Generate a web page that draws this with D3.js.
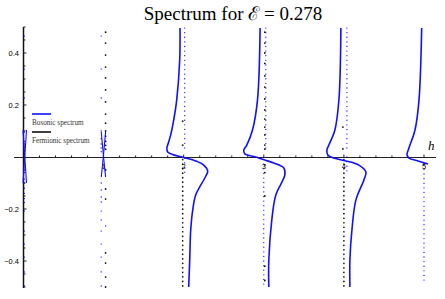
<!DOCTYPE html>
<html>
<head>
<meta charset="utf-8">
<script src="https://cdn.jsdelivr.net/npm/d3@7"></script>
<style>
  body { margin: 0; background: #fff; }
</style>
</head>
<body>
<svg id="chart" width="445" height="299"></svg>
<script>
// ---- data: [h, value] ----
const bosonCurve2 = [[1.954,0.496],[1.95,0.373],[1.9125,0.219],[1.875,0.142],[1.8375,0.085],[1.8,0.046],
  [1.79,0.035],[1.8,0.019],[1.86,0.01],[2.0,-0.002],[2.15,-0.015],[2.25,-0.031],[2.3,-0.054],[2.27,-0.077],
  [2.15,-0.146],[2.1125,-0.204],[2.0875,-0.281],[2.075,-0.396],[2.0625,-0.5]];
const bosonCurve3 = [[2.954,0.496],[2.921,0.219],[2.859,0.104],[2.7875,0.046],[2.75,0.027],[2.7625,0.012],
  [2.875,0.002],[3.0125,-0.0115],[3.125,-0.023],[3.25,-0.042],[3.2625,-0.069],[3.15,-0.146],[3.1,-0.242],
  [3.0625,-0.396],[3.0625,-0.5]];
const bosonCurve4 = [[3.9625,0.496],[3.9375,0.219],[3.8875,0.104],[3.8125,0.046],[3.7875,0.027],[3.8,0.008],
  [3.875,-0.004],[4.025,-0.015],[4.1875,-0.031],[4.275,-0.058],[4.25,-0.088],[4.15,-0.165],[4.1,-0.281],
  [4.075,-0.396],[4.075,-0.5]];
const bosonCurve5 = [[4.971,0.496],[4.9375,0.219],[4.8875,0.104],[4.8125,0.035],[4.7875,0.008],[4.8125,-0.004],
  [4.925,-0.015],[5.05,-0.027]];
const bosonSpikes = [
  [[-0.006,0.104],[0.016,0],[0.0375,-0.1]],
  [[0.0375,0.104],[0.016,0],[-0.006,-0.1]],
  [[0.971,0.096],[0.998,0.005],[1.025,-0.077]],
  [[1.025,0.096],[0.998,0.005],[0.971,-0.077]]
];

// sparse dots: {h, values}
const bosonDots = [
  {h: 0.01, values: [0.465,0.338,0.227,0.096,0.06,0.04,0.025,0.012,-0.06,-0.085,-0.1,-0.12,-0.14,-0.16,-0.175,
    -0.208,-0.285,-0.335,-0.385,-0.442,-0.496]},
  {h: 0.97, values: [0.465,0.338,0.227,0.1,0.07,0.05,0.035,0.02,-0.1,-0.127,-0.154,-0.173,-0.208,-0.242,-0.285,
    -0.335,-0.385,-0.442,-0.496]},
  {h: 1.025, values: [-0.265]}
];
const fermionDots = [
  {h: 1.025, values: [0.48,0.438,0.392,0.346,0.304,0.258,0.212,0.165,0.13,0.1,0.08,0.06,0.045,0.03,
    -0.05,-0.123,-0.162,-0.369,-0.408,-0.462,-0.5]},
  {h: 1.9875, values: [0.138,0.046]},
  {h: 3.0125, values: [0.48,0.438,0.4,0.36,0.312,0.269,0.223,0.181,0.146,0.115,0.085,0.046,0.03,-0.03,-0.06,
    -0.15,-0.42,-0.475]},
  {h: 3.9875, values: [0.115,0.031]},
  {h: 5.0, values: [-0.027]}
];
// dense dotted columns: {h, from, to}
const bosonColumns = [
  {h: 2.0125, from: 0.496, to: 0.02}, {h: 2.0125, from: -0.005, to: -0.07},
  {h: 3.025, from: 0.496, to: 0.03}, {h: 3.0, from: -0.01, to: -0.5},
  {h: 4.0375, from: 0.496, to: 0.03}, {h: 4.0375, from: 0.0, to: -0.06},
  {h: 5.0, from: -0.03, to: -0.485}
];
const fermionColumns = [
  {h: 1.9875, from: -0.01, to: -0.5},
  {h: 4.0, from: -0.01, to: -0.5}
];

const xTicks = [1, 2, 3, 4, 5];
const yTicks = [-0.4, -0.2, 0.2, 0.4];
const legendItems = ['Bosonic spectrum', 'Fermionic spectrum'];

// ---- drawing ----
const svg = d3.select('#chart');
const blue = '#1010ff';

const x = d3.scaleLinear().domain([0, 5]).range([23.5, 424]);
const y = d3.scaleLinear().domain([-0.5, 0.5]).range([287, 27]);

svg.append('text')
    .attr('x', 233).attr('y', 20)
    .attr('text-anchor', 'middle')
    .style('font-family', 'Liberation Serif, serif')
    .style('font-size', '19px')
    .text('Spectrum for ℰ = 0.278');

// axes
const axes = svg.append('g').attr('class', 'axes');
axes.append('line')
    .attr('x1', 14).attr('x2', 436)
    .attr('y1', 157.5).attr('y2', 157.5)
    .attr('stroke', '#222').attr('stroke-width', 1.2);
axes.append('line')
    .attr('x1', x(0)).attr('x2', x(0))
    .attr('y1', y(0.5)).attr('y2', y(-0.5) + 1)
    .attr('stroke', '#111').attr('stroke-width', 1.5);

axes.selectAll('.xminor')
    .data(d3.range(1, 26).map(i => i * 0.2))
    .enter().append('line')
    .attr('x1', d => x(d)).attr('x2', d => x(d))
    .attr('y1', d => 157.5 - (Math.abs(d - Math.round(d)) < 1e-6 ? 3 : 2))
    .attr('y2', 157.5)
    .attr('stroke', '#222').attr('stroke-width', 1);

axes.selectAll('.yminor')
    .data(d3.range(-10, 11).filter(i => i !== 0).map(i => i * 0.05))
    .enter().append('line')
    .attr('x1', x(0)).attr('x2', d => x(0) + (Math.abs(d * 5 - Math.round(d * 5)) < 1e-6 ? 3 : 2))
    .attr('y1', d => y(d)).attr('y2', d => y(d))
    .attr('stroke', '#222').attr('stroke-width', 1);

svg.append('g').selectAll('text')
    .data(yTicks)
    .enter().append('text')
    .attr('x', 19).attr('y', d => y(d) + 2.6)
    .attr('text-anchor', 'end')
    .style('font-family', 'Liberation Sans, sans-serif')
    .style('font-size', '7.5px')
    .text(d => d3.format('.1f')(d).replace('-', '−'));

svg.append('g').selectAll('text')
    .data(xTicks)
    .enter().append('text')
    .attr('x', d => x(d)).attr('y', 169)
    .attr('text-anchor', 'middle')
    .style('font-family', 'Liberation Sans, sans-serif')
    .style('font-size', '7.5px')
    .text(d => d);

svg.append('text')
    .attr('x', 428).attr('y', 150)
    .style('font-family', 'Liberation Serif, serif')
    .style('font-style', 'italic')
    .style('font-size', '13px')
    .text('h');

// dotted columns
const cols = svg.append('g').attr('class', 'columns');
cols.selectAll('.bcol')
    .data(bosonColumns)
    .enter().append('line')
    .attr('x1', d => x(d.h)).attr('x2', d => x(d.h))
    .attr('y1', d => y(d.from)).attr('y2', d => y(d.to))
    .attr('stroke', blue).attr('stroke-width', 1.3)
    .attr('stroke-linecap', 'round')
    .attr('stroke-dasharray', '0.01 4.6');
cols.selectAll('.fcol')
    .data(fermionColumns)
    .enter().append('line')
    .attr('x1', d => x(d.h)).attr('x2', d => x(d.h))
    .attr('y1', d => y(d.from)).attr('y2', d => y(d.to))
    .attr('stroke', '#111').attr('stroke-width', 1.7)
    .attr('stroke-linecap', 'round')
    .attr('stroke-dasharray', '0.01 4.5');

const flatten = (cols) => cols.flatMap(c => c.values.map(v => ({h: c.h, v: v})));

svg.append('g').selectAll('circle')
    .data(flatten(bosonDots))
    .enter().append('circle')
    .attr('cx', d => x(d.h)).attr('cy', d => y(d.v))
    .attr('r', 0.7)
    .attr('fill', blue);

svg.append('g').selectAll('circle')
    .data(flatten(fermionDots))
    .enter().append('circle')
    .attr('cx', d => x(d.h)).attr('cy', d => y(d.v))
    .attr('r', 0.9)
    .attr('fill', '#111');

// bosonic curves
const line = d3.line()
    .x(d => x(d[0]))
    .y(d => y(d[1]))
    .curve(d3.curveCatmullRom.alpha(0.5));

svg.append('g').selectAll('path')
    .data([bosonCurve2, bosonCurve3, bosonCurve4, bosonCurve5])
    .enter().append('path')
    .attr('d', line)
    .attr('fill', 'none')
    .attr('stroke', blue)
    .attr('stroke-width', 1.6);

svg.append('g').selectAll('path')
    .data(bosonSpikes)
    .enter().append('path')
    .attr('d', d3.line().x(d => x(d[0])).y(d => y(d[1])))
    .attr('fill', 'none')
    .attr('stroke', blue)
    .attr('stroke-width', 1.1);

// legend
const legend = svg.append('g').attr('class', 'legend');
legend.selectAll('line')
    .data(legendItems)
    .enter().append('line')
    .attr('x1', 32).attr('x2', 51)
    .attr('y1', (d, i) => 114 + i * 18).attr('y2', (d, i) => 114 + i * 18)
    .attr('stroke', (d, i) => i === 0 ? blue : '#111')
    .attr('stroke-width', 1.6);
legend.selectAll('text')
    .data(legendItems)
    .enter().append('text')
    .attr('x', 32).attr('y', (d, i) => 125 + i * 18)
    .style('font-family', 'Liberation Serif, serif')
    .style('font-size', '7.2px')
    .style('fill', '#333')
    .text(d => d);
</script>
</body>
</html>
